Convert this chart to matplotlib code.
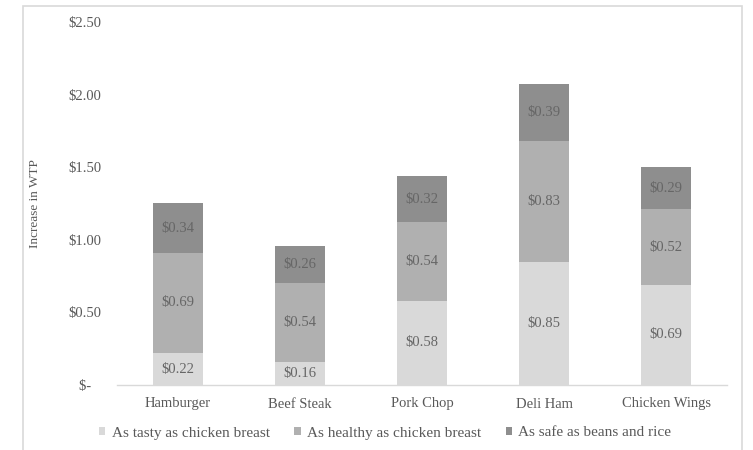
import matplotlib
matplotlib.use("Agg")
import matplotlib.pyplot as plt
from matplotlib.patches import Rectangle
import numpy as np

categories = ["Hamburger", "Beef Steak", "Pork Chop", "Deli Ham", "Chicken Wings"]
tasty = [0.22, 0.16, 0.58, 0.85, 0.69]
healthy = [0.69, 0.54, 0.54, 0.83, 0.52]
safe = [0.34, 0.26, 0.32, 0.39, 0.29]
series_names = ["As tasty as chicken breast", "As healthy as chicken breast", "As safe as beans and rice"]
yticks = [0, 0.5, 1.0, 1.5, 2.0, 2.5]
ytick_labels = ["$-   ", "$0.50", "$1.00", "$1.50", "$2.00", "$2.50"]

colors = ["#d9d9d9", "#b0b0b0", "#8e8e8e"]
text_col = "#595959"
plt.rcParams["font.family"] = ["Liberation Serif", "DejaVu Serif"]

fig = plt.figure(figsize=(7.53, 4.5), dpi=100)
ax = fig.add_axes([117/753, 1-385/450, (727-117)/753, (385-22)/450])

# figure border
fig.patches.append(Rectangle((23/753, -0.05), (742-23)/753, 1-6/450+0.05,
                             transform=fig.transFigure, fill=False,
                             edgecolor="#d9d9d9", linewidth=1.2))

x = np.arange(len(categories))
w = 0.41
bottom = np.zeros(len(categories))
for vals, col, name in zip([tasty, healthy, safe], colors, series_names):
    vals = np.array(vals)
    ax.bar(x, vals, w, bottom=bottom, color=col, label=name, edgecolor="none")
    for xi, b, v in zip(x, bottom, vals):
        ax.text(xi, b + v/2, f"${v:.2f}", ha="center", va="center",
                fontsize=10.5, color="#666666")
    bottom += vals

ax.set_xlim(-0.5, len(categories)-0.5)
ax.set_ylim(0, 2.5)
ax.set_yticks(yticks)
ax.set_yticklabels(ytick_labels, fontsize=10.5, color=text_col)
ax.set_xticks(x)
ax.set_xticklabels(categories, fontsize=10.5, color=text_col)
ax.tick_params(axis="both", length=0)
ax.tick_params(axis="y", pad=11)
ax.tick_params(axis="x", pad=9)
for s in ["top", "right", "left"]:
    ax.spines[s].set_visible(False)
ax.spines["bottom"].set_color("#d9d9d9")
ax.spines["bottom"].set_linewidth(1.0)

fig.text(35/753, 1-204/450, "Increase in WTP", rotation=90, ha="center", va="center",
         fontsize=9.5, color=text_col)

fig.legend(loc="center", bbox_to_anchor=(385/753, 1-433/450), ncol=3, frameon=False,
           prop={"family": ["Liberation Serif"], "size": 11},
           handlelength=0.45, handleheight=0.45, handletextpad=0.4,
           columnspacing=1.6, labelcolor=text_col)

fig.savefig("out.png", dpi=100)
